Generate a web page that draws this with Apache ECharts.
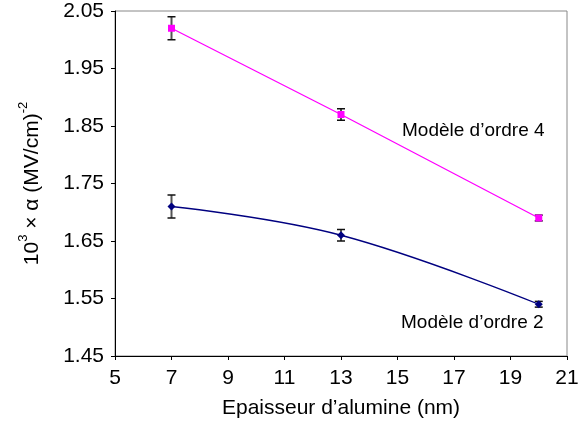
<!DOCTYPE html>
<html>
<head>
<meta charset="utf-8">
<script src="https://cdn.jsdelivr.net/npm/echarts@6/dist/echarts.min.js"></script>
<style>html,body{margin:0;padding:0;background:#fff}#c{width:585px;height:439px}</style>
</head>
<body>
<div id="c"></div>
<script>
const thickness = [7, 13, 20];
const order4 = [2.02, 1.87, 1.69];
const order4Err = [0.02, 0.01, 0.005];
const order2 = [1.71, 1.66, 1.54];
const order2Err = [0.02, 0.01, 0.005];
const yTicks = [1.45, 1.55, 1.65, 1.75, 1.85, 1.95, 2.05];
const xTicks = [5, 7, 9, 11, 13, 15, 17, 19, 21];
const label4 = "Modèle d\u2019ordre 4";
const label2 = "Modèle d\u2019ordre 2";
const xName = "Epaisseur d\u2019alumine (nm)";

const FONT = 'Liberation Sans, Arial, sans-serif';

function errData(xs, ys, es) {
  return xs.map((x, i) => [x, ys[i] - es[i], ys[i] + es[i]]);
}
function errRender(params, api) {
  const x = api.value(0);
  const lo = api.coord([x, api.value(1)]);
  const hi = api.coord([x, api.value(2)]);
  const w = 4;
  return {
    type: 'group',
    children: [
      { type: 'line', shape: { x1: lo[0], y1: lo[1], x2: hi[0], y2: hi[1] }, style: { stroke: '#555', lineWidth: 2 } },
      { type: 'line', shape: { x1: lo[0] - w, y1: lo[1], x2: lo[0] + w, y2: lo[1] }, style: { stroke: '#111', lineWidth: 1.5 } },
      { type: 'line', shape: { x1: hi[0] - w, y1: hi[1], x2: hi[0] + w, y2: hi[1] }, style: { stroke: '#111', lineWidth: 1.5 } }
    ]
  };
}

const chart = echarts.init(document.getElementById('c'), null, { renderer: 'canvas' });
chart.setOption({
  animation: false,
  backgroundColor: '#fff',
  textStyle: { fontFamily: FONT },
  grid: { left: 115, right: 18, top: 11, bottom: 83, show: true, borderColor: '#888', borderWidth: 1, containLabel: false },
  xAxis: {
    type: 'value', min: 5, max: 21, interval: 2,
    axisLine: { lineStyle: { color: '#000', width: 1 } },
    axisTick: { show: true, length: 4, lineStyle: { color: '#000' }, customValues: xTicks },
    axisLabel: { color: '#000', fontSize: 21, margin: 12, fontFamily: FONT, customValues: xTicks },
    splitLine: { show: false },
    name: xName, nameLocation: 'middle', nameGap: 42,
    nameTextStyle: { color: '#000', fontSize: 21, fontFamily: FONT }
  },
  yAxis: {
    type: 'value', min: 1.45, max: 2.05,
    axisLine: { show: true, lineStyle: { color: '#000', width: 1 } },
    axisTick: { show: true, length: 4, lineStyle: { color: '#000' }, customValues: yTicks },
    axisLabel: { color: '#000', fontSize: 21, margin: 11, fontFamily: FONT, customValues: yTicks, formatter: v => Number(v).toFixed(2) },
    splitLine: { show: false },
    name: '{n|10}{s|3}{n| \u00d7 \u03b1 (MV/cm)}{s|-2}',
    nameLocation: 'middle', nameRotate: 90, nameGap: 72,
    nameTextStyle: {
      color: '#000', fontFamily: FONT,
      rich: {
        n: { fontSize: 21, color: '#000', fontFamily: FONT, verticalAlign: 'bottom', lineHeight: 26 },
        s: { fontSize: 13, color: '#000', fontFamily: FONT, verticalAlign: 'top', lineHeight: 26, padding: [0, 0, 10, 0] }
      }
    }
  },
  series: [
    {
      type: 'line', name: label4, data: thickness.map((x, i) => [x, order4[i]]),
      symbol: 'rect', symbolSize: 7, itemStyle: { color: '#ff00ff' },
      lineStyle: { color: '#ff00ff', width: 1.3 }, z: 3
    },
    {
      type: 'line', name: label2, data: thickness.map((x, i) => [x, order2[i]]),
      symbol: 'diamond', symbolSize: 8, itemStyle: { color: '#000080' },
      lineStyle: { color: '#000080', width: 1.3 }, smooth: 0.4, z: 3
    },
    { type: 'custom', data: errData(thickness, order4, order4Err), renderItem: errRender, z: 2 },
    { type: 'custom', data: errData(thickness, order2, order2Err), renderItem: errRender, z: 2 }
  ],
  graphic: [
    { type: 'text', left: 402, top: 121, style: { text: label4, fontSize: 19, fill: '#000', fontFamily: FONT } },
    { type: 'text', left: 401, top: 313, style: { text: label2, fontSize: 19, fill: '#000', fontFamily: FONT } }
  ]
});
</script>
</body>
</html>
